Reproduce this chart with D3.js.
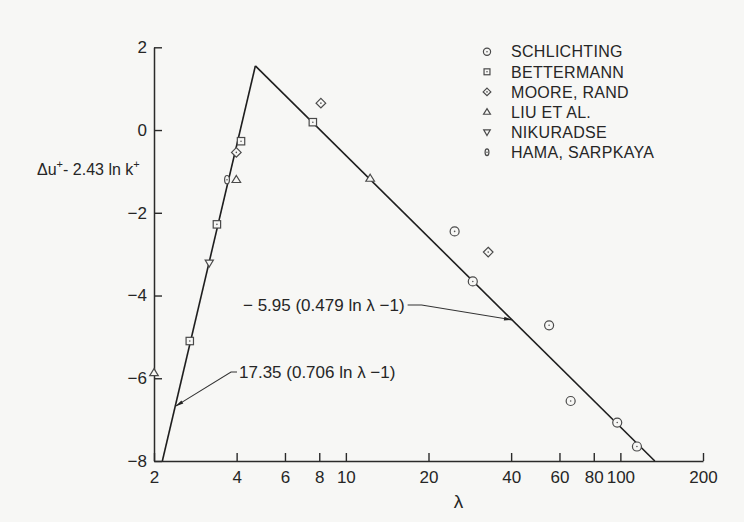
<!DOCTYPE html>
<meta charset="utf-8">
<script src="https://d3js.org/d3.v7.min.js"></script>
<style>
  body { margin: 0; background: #f7f7f5; }
  text { font-family: "Liberation Sans", Arial, sans-serif; fill: #262626; }
</style>
<div id="my_dataviz"></div>
<script>

// legend / series names
var seriesNames = ["SCHLICHTING", "BETTERMANN", "MOORE, RAND", "LIU ET AL.", "NIKURADSE", "HAMA, SARPKAYA"];
var seriesSymbols = ["circle", "square", "diamond", "triangle", "triangleDown", "oval"];

// data points [lambda, value]
var schlichting = [[24.9, -2.45], [29.0, -3.66], [55.0, -4.72], [65.9, -6.55], [97.4, -7.07], [114.9, -7.65]];
var bettermann = [[2.70, -5.10], [3.39, -2.28], [4.15, -0.27], [7.58, 0.19]];
var mooreRand = [[3.99, -0.54], [8.11, 0.65], [33.0, -2.95]];
var liuEtAl = [[2.0, -5.87], [3.99, -1.20], [12.26, -1.17]];
var nikuradse = [[3.18, -3.21]];
var hamaSarpkaya = [[3.69, -1.20]];

// the two correlation lines (end points)
var leftLine = [[2.145, -8], [4.68, 1.55]];
var rightLine = [[4.68, 1.55], [133.5, -8]];

// ticks
var xTicks = [2, 4, 6, 8, 10, 20, 40, 60, 80, 100, 200];
var yTicks = [2, 0, -2, -4, -6, -8];

var width = 744, height = 522;

var svg = d3.select("#my_dataviz")
  .append("svg")
    .attr("width", width)
    .attr("height", height);

var x = d3.scaleLog().domain([2, 200]).range([154, 703]);
var y = d3.scaleLinear().domain([-8, 2]).range([461, 47.3]);

// arrow head
svg.append("defs").append("marker")
    .attr("id", "arrow")
    .attr("viewBox", "0 0 10 6")
    .attr("refX", 10).attr("refY", 3)
    .attr("markerWidth", 10).attr("markerHeight", 5)
    .attr("markerUnits", "userSpaceOnUse")
    .attr("orient", "auto")
  .append("path")
    .attr("d", "M0,0.8 L10,3 L0,5.2 Z")
    .attr("fill", "#222");

// X axis
var xAxis = svg.append("g")
    .attr("transform", "translate(0," + y(-8) + ")")
    .call(d3.axisBottom(x).tickValues(xTicks).tickFormat(d3.format("d"))
      .tickSize(-8).tickSizeOuter(0).tickPadding(10));

// Y axis
var yAxis = svg.append("g")
    .attr("transform", "translate(" + x(2) + ",0)")
    .call(d3.axisLeft(y).tickValues(yTicks).tickFormat(d3.format("d"))
      .tickSize(-8).tickSizeOuter(0).tickPadding(7));

[xAxis, yAxis].forEach(function(g) {
  g.select(".domain").attr("stroke", "#2a2a2a").attr("stroke-width", 1.5);
  g.selectAll(".tick line").attr("stroke", "#2a2a2a").attr("stroke-width", 1.4);
  g.selectAll(".tick text")
    .style("font-family", "'Liberation Sans', Arial, sans-serif")
    .style("font-size", "17px")
    .attr("fill", "#262626");
});

// axis titles
svg.append("text")
    .attr("x", x(20) + 30).attr("y", 508)
    .attr("text-anchor", "middle")
    .style("font-size", "19px")
    .text("λ");

var ylab = svg.append("text")
    .attr("x", 37).attr("y", 175)
    .style("font-size", "16px");
ylab.append("tspan").text("Δu");
ylab.append("tspan").attr("dy", -7).style("font-size", "11px").text("+");
ylab.append("tspan").attr("dy", 7).text("- 2.43 ln k");
ylab.append("tspan").attr("dy", -7).style("font-size", "11px").text("+");

// correlation lines
var line = d3.line()
  .x(function(d) { return x(d[0]); })
  .y(function(d) { return y(d[1]); });

[leftLine, rightLine].forEach(function(l) {
  svg.append("path")
    .datum(l)
    .attr("d", line)
    .attr("fill", "none")
    .attr("stroke", "#1e1e1e")
    .attr("stroke-width", 1.6);
});

// annotations
var annotations = [
  {tip: [40.4, -4.59], text: "\u2212 5.95 (0.479 ln \u03bb \u22121)", tx: 243, ty: 311, side: "right"},
  {tip: [2.39, -6.68], text: "17.35 (0.706 ln \u03bb \u22121)", tx: 239, ty: 378, side: "left"}
];

annotations.forEach(function(a) {
  var t = svg.append("text")
      .attr("x", a.tx).attr("y", a.ty)
      .style("font-size", "17px")
      .text(a.text);
  var bb = t.node().getBBox();
  var midY = a.ty - 6;
  var pts;
  if (a.side === "right") {
    var sx = bb.x + bb.width + 3;
    pts = [[sx, midY], [sx + 14, midY], [x(a.tip[0]), y(a.tip[1])]];
  } else {
    var sx2 = bb.x - 2;
    pts = [[sx2, midY], [sx2 - 6, midY], [x(a.tip[0]), y(a.tip[1])]];
  }
  svg.append("path")
    .attr("d", d3.line()(pts))
    .attr("fill", "none")
    .attr("stroke", "#333")
    .attr("stroke-width", 1.1)
    .attr("marker-end", "url(#arrow)");
});

// marker shapes
function drawSymbol(g, kind, cx, cy, s) {
  var stroke = "#4a4a4a", sw = 1.2;
  var el;
  if (kind === "circle") {
    el = g.append("circle").attr("cx", cx).attr("cy", cy).attr("r", 4.5 * s);
  } else if (kind === "square") {
    var h = 3.7 * s;
    el = g.append("rect").attr("x", cx - h).attr("y", cy - h).attr("width", 2 * h).attr("height", 2 * h);
  } else if (kind === "diamond") {
    var d = 4.8 * s;
    el = g.append("path").attr("d", "M" + cx + "," + (cy - d) + "L" + (cx + d) + "," + cy + "L" + cx + "," + (cy + d) + "L" + (cx - d) + "," + cy + "Z");
  } else if (kind === "triangle") {
    var w = 4.3 * s, ht = 7 * s;
    el = g.append("path").attr("d", "M" + cx + "," + (cy - ht * 0.6) + "L" + (cx + w) + "," + (cy + ht * 0.4) + "L" + (cx - w) + "," + (cy + ht * 0.4) + "Z");
  } else if (kind === "triangleDown") {
    var w2 = 4.1 * s, ht2 = 7 * s;
    el = g.append("path").attr("d", "M" + cx + "," + (cy + ht2 * 0.6) + "L" + (cx + w2) + "," + (cy - ht2 * 0.4) + "L" + (cx - w2) + "," + (cy - ht2 * 0.4) + "Z");
  } else {
    el = g.append("ellipse").attr("cx", cx).attr("cy", cy).attr("rx", 2.4 * s).attr("ry", 4.2 * s);
  }
  el.attr("fill", "#f7f7f5").attr("stroke", stroke).attr("stroke-width", sw);
  if (kind === "circle" || kind === "square" || kind === "diamond" || kind === "oval") {
    g.append("circle").attr("cx", cx).attr("cy", cy).attr("r", 0.8).attr("fill", "#555");
  }
}

var allSeries = [schlichting, bettermann, mooreRand, liuEtAl, nikuradse, hamaSarpkaya];
var pointsG = svg.append("g");
allSeries.forEach(function(data, i) {
  data.forEach(function(d) {
    drawSymbol(pointsG, seriesSymbols[i], x(d[0]), y(d[1]), 1);
  });
});

// legend
var legend = svg.append("g");
seriesNames.forEach(function(name, i) {
  var ly = 51.7 + i * 20.1;
  drawSymbol(legend, seriesSymbols[i], 487, ly, 0.8);
  legend.append("text")
    .attr("x", 511).attr("y", ly)
    .attr("dy", "0.36em")
    .style("font-size", "16px")
    .style("letter-spacing", "0.3px")
    .text(name);
});

</script>
